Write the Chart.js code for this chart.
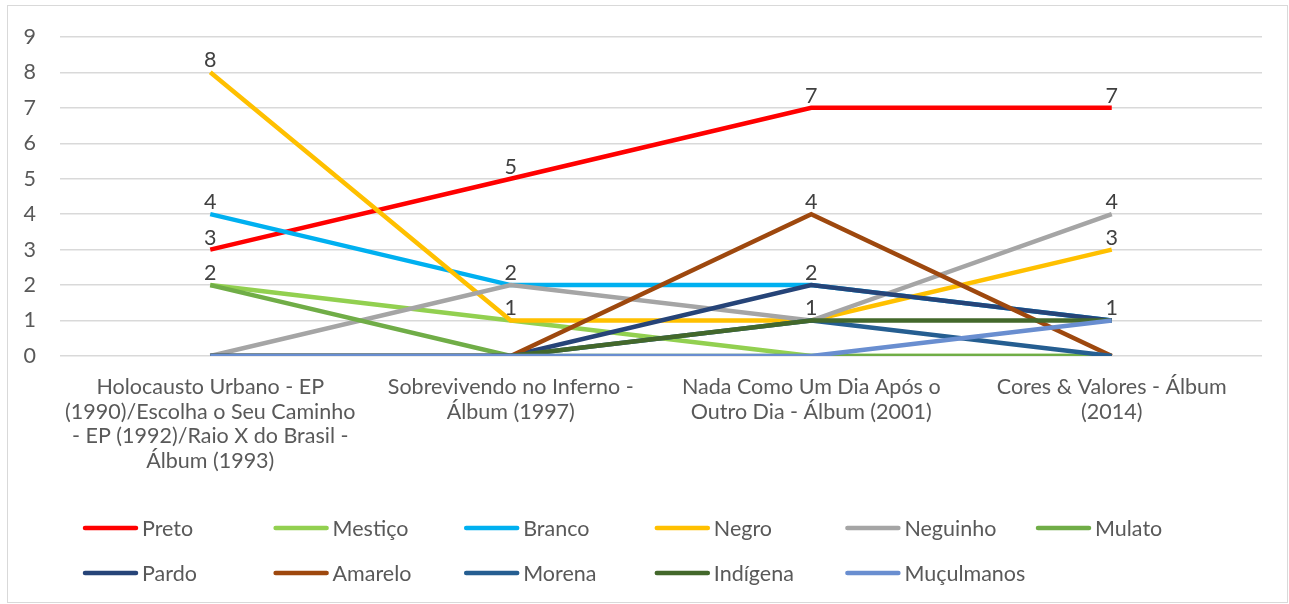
<!DOCTYPE html>
<html>
<head>
<meta charset="utf-8">
<script src="https://cdn.jsdelivr.net/npm/chart.js@4.4.0/dist/chart.umd.min.js"></script>
<style>
    body { margin: 0; background: #fff; }
    #wrap { width: 1289px; height: 604px; }
</style>
</head>
<body>
<div id="wrap"><canvas id="lineChart" width="1289" height="604"></canvas></div>
<script>
"use strict";

// categories (albums), already wrapped the way the original shows them
var albums = [
    ["Holocausto Urbano - EP", "(1990)/Escolha o Seu Caminho", "- EP (1992)/Raio X do Brasil -", "Álbum (1993)"],
    ["Sobrevivendo no Inferno -", "Álbum (1997)"],
    ["Nada Como Um Dia Após o", "Outro Dia - Álbum (2001)"],
    ["Cores & Valores - Álbum", "(2014)"]
];

var yTicks = [0, 1, 2, 3, 4, 5, 6, 7, 8, 9];

// one array per term
var preto = [3, 5, 7, 7];
var mestico = [2, 1, 0, 0];
var branco = [4, 2, 2, 1];
var negro = [8, 1, 1, 3];
var neguinho = [0, 2, 1, 4];
var mulato = [2, 0, 0, 0];
var pardo = [0, 0, 2, 1];
var amarelo = [0, 0, 4, 0];
var morena = [0, 0, 1, 0];
var indigena = [0, 0, 1, 1];
var muculmanos = [0, 0, 0, 1];

var seriesNames = ["Preto", "Mestiço", "Branco", "Negro", "Neguinho", "Mulato",
    "Pardo", "Amarelo", "Morena", "Indígena", "Muçulmanos"];
var seriesValues = [preto, mestico, branco, negro, neguinho, mulato,
    pardo, amarelo, morena, indigena, muculmanos];
var seriesColors = ["#FF0000", "#92D050", "#00B0F0", "#FFC000", "#A5A5A5", "#70AD47",
    "#264478", "#9E480E", "#255E91", "#43682B", "#698ED0"];

var FONT = "Lato, 'Open Sans', sans-serif";
var FONT_SIZE = 21.5;
var TEXT_COLOR = "#595959";

var datasets = [];
for (var i = 0; i < seriesNames.length; i++) {
    datasets.push({
        label: seriesNames[i],
        data: seriesValues[i],
        borderColor: seriesColors[i],
        backgroundColor: seriesColors[i],
        borderWidth: 4.5,
        pointRadius: 0,
        tension: 0,
        fill: false,
        // later series sit on top, like in the spreadsheet
        order: seriesNames.length - i
    });
}

// white background + thin outer frame
var framePlugin = {
    id: "frame",
    beforeDraw: function(chart) {
        var ctx = chart.ctx;
        ctx.save();
        ctx.fillStyle = "#fff";
        ctx.fillRect(0, 0, chart.width, chart.height);
        ctx.strokeStyle = "#d9d9d9";
        ctx.lineWidth = 1;
        ctx.strokeRect(7.5, 5.5, chart.width - 9, chart.height - 7);
        ctx.restore();
    }
};

// value labels above every non zero point (same spot drawn once)
var valueLabels = {
    id: "valueLabels",
    afterDatasetsDraw: function(chart) {
        var ctx = chart.ctx;
        var done = {};
        ctx.save();
        ctx.font = FONT_SIZE + "px " + FONT;
        ctx.fillStyle = "#404040";
        ctx.textAlign = "center";
        ctx.textBaseline = "middle";
        chart.data.datasets.forEach(function(ds, di) {
            var meta = chart.getDatasetMeta(di);
            meta.data.forEach(function(pt, idx) {
                var v = ds.data[idx];
                var key = idx + "_" + v;
                if (v > 0 && !done[key]) {
                    done[key] = true;
                    ctx.fillText(String(v), pt.x, pt.y - 12);
                }
            });
        });
        ctx.restore();
    }
};

// fixed grid legend, two rows of six columns
var gridLegend = {
    id: "gridLegend",
    afterDraw: function(chart) {
        var ctx = chart.ctx;
        var startX = 83, colW = 190.6, rowY = [528, 573], lineLen = 55;
        ctx.save();
        ctx.font = FONT_SIZE + "px " + FONT;
        ctx.textBaseline = "middle";
        ctx.textAlign = "left";
        ctx.lineCap = "round";
        chart.data.datasets.forEach(function(ds, i) {
            var col = i % 6, row = Math.floor(i / 6);
            var x = startX + col * colW, y = rowY[row];
            ctx.strokeStyle = ds.borderColor;
            ctx.lineWidth = 4.5;
            ctx.beginPath();
            ctx.moveTo(x + 2, y);
            ctx.lineTo(x + lineLen - 2, y);
            ctx.stroke();
            ctx.fillStyle = TEXT_COLOR;
            ctx.fillText(ds.label, x + lineLen + 4, y + 1);
        });
        ctx.restore();
    }
};

new Chart(document.getElementById("lineChart"), {
    type: "line",
    data: {
        labels: albums,
        datasets: datasets
    },
    options: {
        responsive: false,
        animation: false,
        devicePixelRatio: 1,
        layout: {
            padding: { top: 34, left: 8, right: 27, bottom: 98 }
        },
        plugins: {
            legend: { display: false },
            tooltip: { enabled: false }
        },
        scales: {
            x: {
                offset: true,
                grid: { display: false, drawTicks: false },
                border: { display: false },
                ticks: {
                    color: TEXT_COLOR,
                    font: { family: FONT, size: FONT_SIZE, lineHeight: 1.14 },
                    padding: 19,
                    maxRotation: 0,
                    autoSkip: false
                },
                afterFit: function(scale) { scale.height = 150; }
            },
            y: {
                min: 0,
                max: 9,
                afterBuildTicks: function(scale) {
                    scale.ticks = yTicks.map(function(v) { return { value: v }; });
                },
                grid: { color: "#d9d9d9", lineWidth: 1.5, drawTicks: false },
                border: { display: false },
                ticks: {
                    color: TEXT_COLOR,
                    font: { family: FONT, size: FONT_SIZE },
                    padding: 24
                },
                afterFit: function(scale) { scale.width = 52; }
            }
        }
    },
    plugins: [framePlugin, valueLabels, gridLegend]
});
</script>
</body>
</html>
